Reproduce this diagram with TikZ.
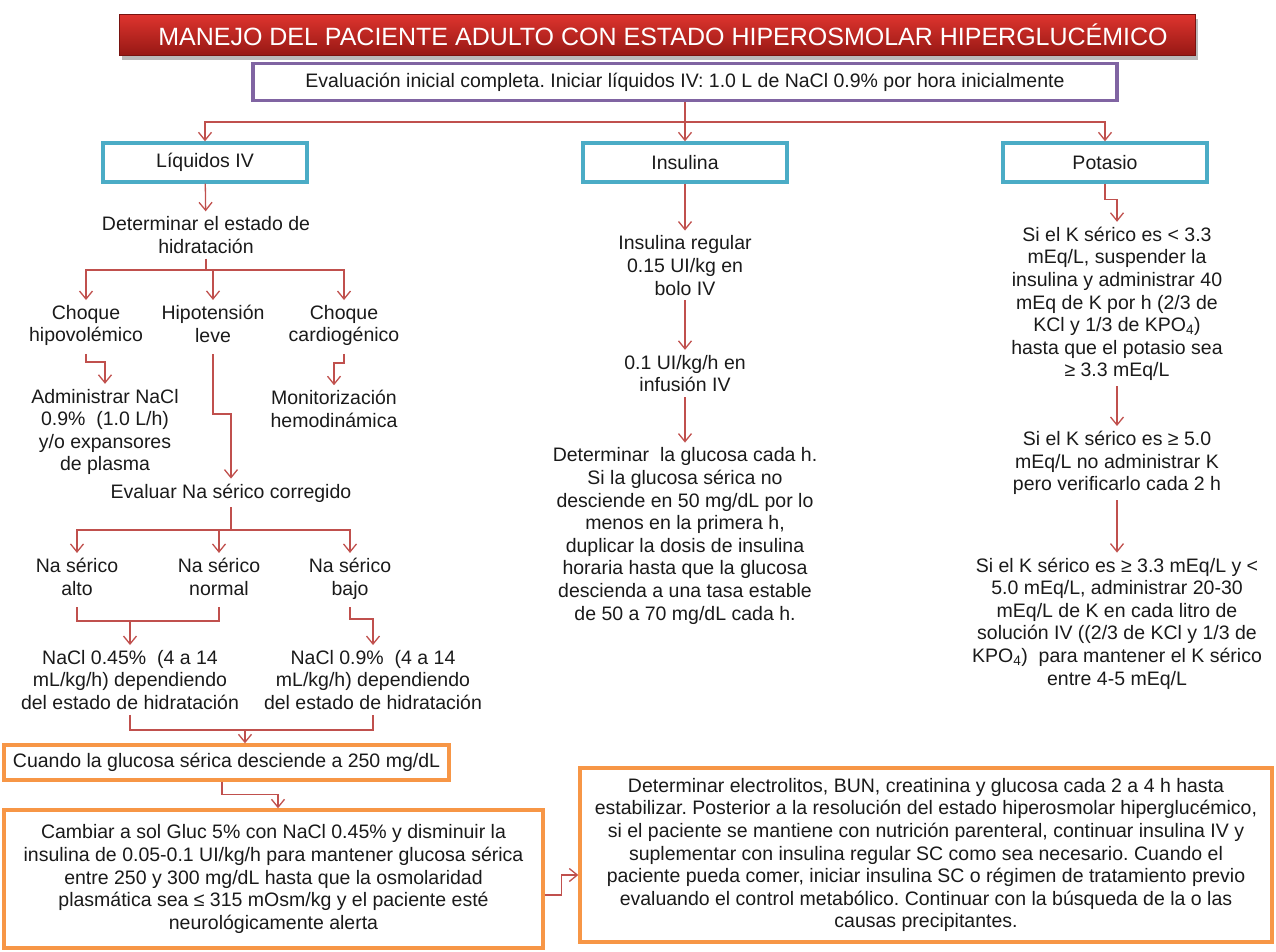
\documentclass[tikz,border=0pt]{standalone}
\usepackage{fontspec}
\setmainfont{Liberation Sans}
\usepackage{tikz}
\usetikzlibrary{arrows.meta, shadows}
\usepackage{xcolor}
\definecolor{linkred}{RGB}{192,80,77}
\definecolor{headcyan}{RGB}{75,172,198}
\definecolor{evalpurple}{RGB}{128,100,162}
\definecolor{boxorange}{RGB}{247,150,70}
\definecolor{titletop}{RGB}{222,52,46}
\definecolor{titlebottom}{RGB}{150,24,20}
\definecolor{txt}{RGB}{26,26,26}

\begin{document}
\frenchspacing
\begin{tikzpicture}[
                x=1pt, y=-1pt,
                >={Straight Barb[length=8pt,width=13pt]},
                every node/.style={font=\fontsize{19.5}{22.6}\selectfont, align=center, text=txt, inner sep=5pt},
                link/.style={draw=linkred, line width=1.3pt},
                titlebox/.style={rectangle, top color=titletop, bottom color=titlebottom, draw=titlebottom!80!black,
                    drop shadow={shadow xshift=3pt, shadow yshift=-4pt, fill=black!60, opacity=.45},
                    text=white, font=\fontsize{25}{28}\selectfont, minimum width=1076pt, minimum height=41pt},
                evalbox/.style={draw=evalpurple, line width=3.4pt, fill=white, minimum width=864pt, minimum height=37pt},
                headbox/.style={draw=headcyan, line width=3.4pt, fill=white, minimum width=204pt, minimum height=39pt},
                orangebox/.style={draw=boxorange, line width=3.4pt, fill=white, inner xsep=3pt}
            ]
                \useasboundingbox (0, 0) rectangle (1276, 951);
                \node[titlebox] (title) at (657, 35) {\hspace{12pt}MANEJO DEL PACIENTE ADULTO CON ESTADO HIPEROSMOLAR HIPERGLUCÉMICO};
                \node[evalbox] (eval) at (685, 82) {Evaluación inicial completa. Iniciar líquidos IV: 1.0 L de NaCl 0.9\% por hora inicialmente};
                \coordinate (split) at (685, 122);
                \node[headbox] (liq) at (205, 162.5) {Líquidos IV};
                \node[headbox] (ins) at (685, 162.5) {Insulina};
                \node[headbox] (pot) at (1105, 162.5) {Potasio};

                \node (hid) at (206, 235) {Determinar el estado de\\hidratación};
                \coordinate (s2) at (206, 270);
                \node (hipo) at (86, 327) {Choque\\hipovolémico\strut};
                \node (hipot) at (213, 327) {Hipotensión\\leve\strut};
                \node (cardio) at (344, 327) {Choque\\cardiogénico\strut};
                \node (admin) at (105, 432) {Administrar NaCl\\0.9\%\ \ (1.0 L/h)\\y/o expansores\\de plasma};
                \node (monit) at (334, 409) {Monitorización\\hemodinámica};
                \node (evalna) at (231, 493) {Evaluar Na sérico corregido};
                \coordinate (s3) at (231, 530);
                \node (alto) at (77, 580) {Na sérico\\alto\strut};
                \node (normal) at (219, 580) {Na sérico\\normal\strut};
                \node (bajo) at (350, 580) {Na sérico\\bajo\strut};
                \coordinate (m1) at (130, 621);
                \node (nacl45) at (130, 680) {NaCl 0.45\%\ \ (4 a 14\\mL/kg/h) dependiendo\\del estado de hidratación};
                \node (nacl9) at (373, 680) {NaCl 0.9\%\ \ (4 a 14\\mL/kg/h) dependiendo\\del estado de hidratación};
                \coordinate (m2) at (245, 730);

                \node (ins1) at (685, 265.5) {Insulina regular\\0.15 UI/kg en\\bolo IV};
                \node (ins2) at (685, 373.5) {0.1 UI/kg/h en\\infusión IV};
                \node (ins3) at (685, 536) {Determinar\ \ la glucosa cada h.\\Si la glucosa sérica no\\desciende en 50 mg/dL por lo\\menos en la primera h,\\duplicar la dosis de insulina\\horaria hasta que la glucosa\\descienda a una tasa estable\\de 50 a 70 mg/dL cada h.};

                \node (k1) at (1117, 304) {Si el K sérico es < 3.3\\mEq/L, suspender la\\insulina y administrar 40\\mEq de K por h (2/3 de\\KCl y 1/3 de KPO\textsubscript{4})\\hasta que el potasio sea\\≥ 3.3 mEq/L};
                \node (k2) at (1117, 463) {Si el K sérico es ≥ 5.0\\mEq/L no administrar K\\pero verificarlo cada 2 h};
                \node (k3) at (1117, 623.5) {Si el K sérico es ≥ 3.3 mEq/L y <\\5.0 mEq/L, administrar 20-30\\mEq/L de K en cada litro de\\solución IV ((2/3 de KCl y 1/3 de\\KPO\textsubscript{4})\ \ para mantener el K sérico\\entre 4-5 mEq/L};

                \node[orangebox, minimum width=445pt, minimum height=35pt] (cuando) at (226.5, 762.5) {Cuando la glucosa sérica desciende a 250 mg/dL};
                \node[orangebox, minimum width=539pt, minimum height=138pt] (cambiar) at (273.5, 879) {Cambiar a sol Gluc 5\% con NaCl 0.45\% y disminuir la\\insulina de 0.05-0.1 UI/kg/h para mantener glucosa sérica\\entre 250 y 300 mg/dL hasta que la osmolaridad\\plasmática sea ≤ 315 mOsm/kg y el paciente esté\\neurológicamente alerta};
                \node[orangebox, minimum width=692pt, minimum height=174pt] (det) at (926, 855) {Determinar electrolitos, BUN, creatinina y glucosa cada 2 a 4 h hasta\\estabilizar. Posterior a la resolución del estado hiperosmolar hiperglucémico,\\si el paciente se mantiene con nutrición parenteral, continuar insulina IV y\\suplementar con insulina regular SC como sea necesario. Cuando el\\paciente pueda comer, iniciar insulina SC o régimen de tratamiento previo\\evaluando el control metabólico. Continuar con la búsqueda de la o las\\causas precipitantes.};

                \draw[link, ->] (eval) -- (ins);
                \draw[link, ->] (split) -| (liq);
                \draw[link, ->] (split) -| (pot);

                \draw[link, ->] (liq) -- (hid);
                \draw[link] (hid) -- (s2);
                \draw[link, ->] (s2) -| (hipo);
                \draw[link, ->] (s2 -| hipot) -- (hipot);
                \draw[link, ->] (s2) -| (cardio);
                \draw[link, ->] (hipo.south) -- ++(0, 8) -| (admin);
                \draw[link, ->] (cardio.south) -- ++(0, 9) -| (monit);
                \draw[link, ->] (hipot.south) -- ++(0, 60) -| (evalna);
                \draw[link] (evalna) -- (s3);
                \draw[link, ->] (s3) -| (alto);
                \draw[link, ->] (s3) -| (normal);
                \draw[link, ->] (s3) -| (bajo);
                \draw[link] (alto.south) |- (m1) -| (normal.south);
                \draw[link, ->] (m1) -- (nacl45);
                \draw[link, ->] (bajo.south) -- ++(0, 12) -| (nacl9);
                \draw[link] (nacl45.south) |- (m2) -| (nacl9.south);
                \draw[link, ->] (m2) -- (m2 |- cuando.north);
                \draw[link, ->] ([xshift=-4.5pt]cuando.south) -- ++(0, 13) -| ([xshift=4.5pt]cambiar.north);
                \draw[link, ->] ([yshift=-16pt]cambiar.east) -- ++(17, 0) |- ([yshift=-20pt]det.west);

                \draw[link, ->] (ins) -- (ins1);
                \draw[link, ->] (ins1) -- (ins2);
                \draw[link, ->] (ins2) -- (ins3);

                \draw[link, ->] (pot.south) -- ++(0, 16) -| (k1);
                \draw[link, ->] (k1) -- (k2);
                \draw[link, ->] (k2) -- (k3);
            \end{tikzpicture}
\end{document}
